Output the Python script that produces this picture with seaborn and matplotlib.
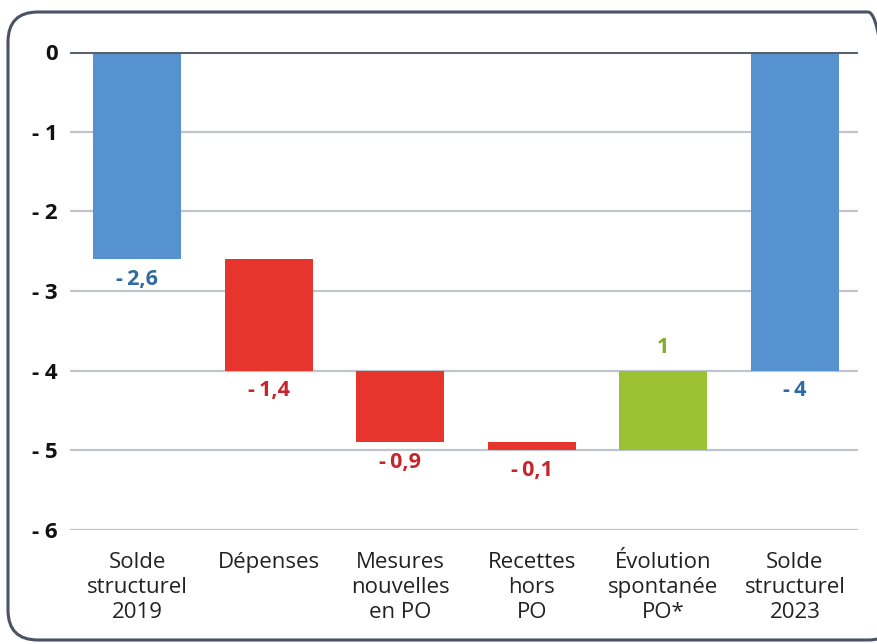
import seaborn as sns
import matplotlib.pyplot as plt
from matplotlib.patches import FancyBboxPatch

# data
categories = ["Solde\nstructurel\n2019", "Dépenses", "Mesures\nnouvelles\nen PO",
              "Recettes\nhors\nPO", "Évolution\nspontanée\nPO*", "Solde\nstructurel\n2023"]
bar_start = [0, -2.6, -4.0, -4.9, -5.0, 0]
bar_change = [-2.6, -1.4, -0.9, -0.1, 1.0, -4.0]
value_labels = ["-\u20092,6", "-\u20091,4", "-\u20090,9", "-\u20090,1", "1", "-\u20094"]
y_ticks = [0, -1, -2, -3, -4, -5, -6]
y_tick_labels = ["0", "- 1", "- 2", "- 3", "- 4", "- 5", "- 6"]

bar_colors = ["#5592cf", "#e5352d", "#e5352d", "#e5352d", "#9bc232", "#5592cf"]
label_colors = ["#2f6aa6", "#c8252b", "#c8252b", "#c8252b", "#7fae2a", "#2f6aa6"]

sns.set_theme(style="white")
plt.rcParams['font.family'] = ['Open Sans', 'DejaVu Sans']

fig = plt.figure(figsize=(8.77, 6.44), dpi=100)
ax = fig.add_axes([70 / 877, 1 - 530 / 644, 788 / 877, 478 / 644])

x = list(range(len(categories)))
ax.bar(x, bar_change, bottom=bar_start, width=0.67, color=bar_colors, linewidth=0, zorder=3)

# grid lines
for t in y_ticks:
    ax.axhline(t, color="#5a6070" if t == 0 else "#c0c4cd", lw=2.2 if t == 0 else 1.6,
               zorder=4 if t == 0 else 1)

for i in x:
    end = bar_start[i] + bar_change[i]
    offset = 16.5 if bar_change[i] > 0 else -14.5
    ax.annotate(value_labels[i], (i, end), xytext=(0, offset), textcoords="offset points",
                ha="center", va="center", fontsize=15.5, fontweight="bold",
                color=label_colors[i])

ax.set_xlim(-0.51, 5.48)
ax.set_ylim(-6, 0)
ax.set_xticks(x)
ax.set_xticklabels(categories, fontsize=16, color="#222222", linespacing=1.27)
ax.set_yticks(y_ticks)
ax.set_yticklabels(y_tick_labels, fontsize=16, fontweight="bold", color="#111111")
ax.tick_params(axis="x", length=0, pad=15.5)
ax.tick_params(axis="y", length=0, pad=9)
for s in ax.spines.values():
    s.set_visible(False)
ax.grid(False)

# rounded frame around the figure
frame = FancyBboxPatch((0.08, 0.04), 8.9, 6.28, boxstyle="round,pad=0,rounding_size=0.3",
                       transform=fig.dpi_scale_trans, fill=False, edgecolor="#4b5263",
                       linewidth=2.2)
fig.patches.append(frame)

fig.savefig("out.png", dpi=100)
